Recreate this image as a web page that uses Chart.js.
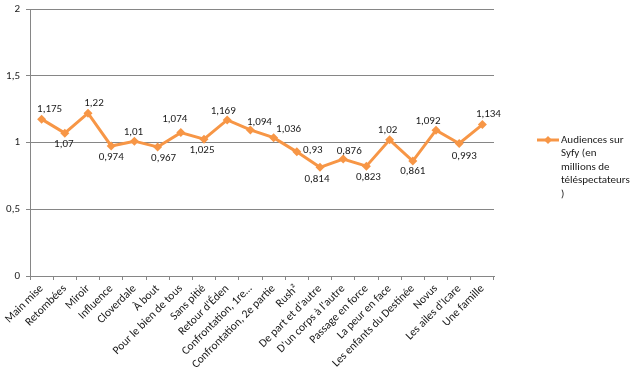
<!DOCTYPE html>
<html><head><meta charset="utf-8">
<script src="https://cdn.jsdelivr.net/npm/chart.js@4"></script>
<style>html,body{margin:0;padding:0;background:#fff}#wrap{width:640px;height:370px}</style>
</head><body><div id="wrap"><canvas id="c" width="640" height="370"></canvas></div>
<script>
const categories = ["Main mise","Retombées","Miroir","Influence","Cloverdale","À bout","Pour le bien de tous","Sans pitié","Retour d'Éden","Confrontation, 1re…","Confrontation, 2e partie","Rush²","De part et d'autre","D'un corps à l'autre","Passage en force","La peur en face","Les enfants du Destinée","Novus","Les ailes d'Icare","Une famille"];
const audiences = [1.175,1.07,1.22,0.974,1.01,0.967,1.074,1.025,1.169,1.094,1.036,0.93,0.814,0.876,0.823,1.02,0.861,1.092,0.993,1.134];
const legendLines = ["Audiences sur","Syfy (en","millions de","téléspectateurs",")"];
const seriesName = legendLines.join(" ");
const yTicks = [0,0.5,1,1.5,2];

const ORANGE = "#F79646";
const FONT = "Calibri, Carlito, Lato, 'Liberation Sans', sans-serif";
const labelOffsets = [[8,-10],[-1,11],[6,-10],[0,11],[-1,-9],[6,11],[-6,-13],[-2,11],[-4,-9],[9,-8],[15,-8],[16,-2],[-3,12],[6,-8],[2,11],[-2,-10],[0,10],[-8,-9],[5,13],[6,-10]];

const fmt = v => String(v).replace('.', ',');

const labelPlugin = {
  id: 'vals',
  afterDatasetsDraw(chart) {
    const ctx = chart.ctx;
    const meta = chart.getDatasetMeta(0);
    ctx.save();
    ctx.font = "11px " + FONT;
    ctx.fillStyle = "#1a1a1a";
    ctx.textAlign = "center";
    ctx.textBaseline = "middle";
    meta.data.forEach((pt, i) => {
      const o = labelOffsets[i] || [0,-10];
      ctx.fillText(fmt(chart.data.datasets[0].data[i]), pt.x + o[0], pt.y + o[1]);
    });
    // legend
    const lx = 537, ly = 140;
    ctx.strokeStyle = ORANGE; ctx.lineWidth = 3;
    ctx.beginPath(); ctx.moveTo(lx, ly); ctx.lineTo(lx + 22, ly); ctx.stroke();
    ctx.fillStyle = ORANGE;
    const mx = lx + 11, r = 4;
    ctx.beginPath(); ctx.moveTo(mx, ly - r); ctx.lineTo(mx + r, ly); ctx.lineTo(mx, ly + r); ctx.lineTo(mx - r, ly); ctx.closePath(); ctx.fill();
    ctx.fillStyle = "#1a1a1a";
    ctx.textAlign = "left";
    legendLines.forEach((t, i) => ctx.fillText(t, 561, ly + i * 13.5));
    ctx.restore();
  }
};

new Chart(document.getElementById('c'), {
  type: 'line',
  data: {
    labels: categories,
    datasets: [{
      label: seriesName,
      data: audiences,
      borderColor: ORANGE,
      backgroundColor: ORANGE,
      borderWidth: 3,
      pointStyle: 'rectRot',
      pointRadius: 4.5,
      pointBorderWidth: 0,
      tension: 0
    }]
  },
  options: {
    responsive: false,
    animation: false,
    devicePixelRatio: 1,
    layout: { padding: { top: 9, right: 146, left: 0, bottom: 0 } },
    plugins: { legend: { display: false }, tooltip: { enabled: false } },
    scales: {
      x: {
        offset: true,
        grid: { offset: true, drawOnChartArea: false, drawTicks: true, tickLength: 4, color: "#868686" },
        border: { color: "#868686", width: 1 },
        ticks: { maxRotation: 45, minRotation: 45, autoSkip: false, color: "#1a1a1a", font: { size: 11.5, family: FONT }, padding: 2 },
        afterFit(s) { s.height = 94; s.paddingLeft = 0; s.paddingRight = 0; }
      },
      y: {
        min: 0, max: 2,
        afterBuildTicks(s) { s.ticks = yTicks.map(v => ({ value: v })); },
        grid: { color: "#868686", drawTicks: true, tickLength: 4 },
        border: { color: "#868686", width: 1 },
        ticks: { color: "#1a1a1a", font: { size: 11, family: FONT }, padding: 6, callback: v => fmt(v) },
        afterFit(s) { s.width = 30; s.paddingTop = 0; s.paddingBottom = 0; }
      }
    }
  },
  plugins: [labelPlugin]
});
</script></body></html>
